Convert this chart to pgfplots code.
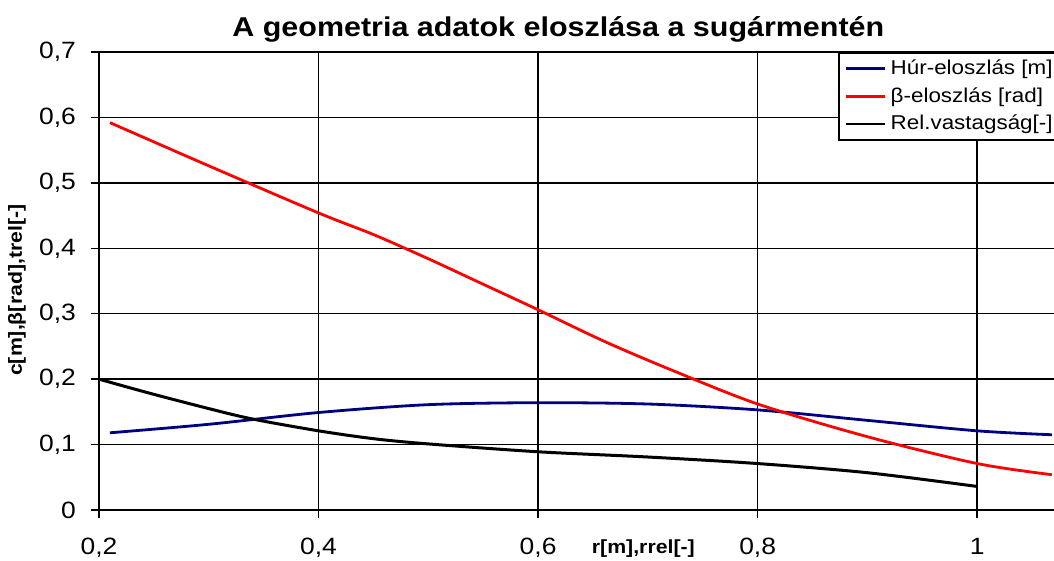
\documentclass[border=0pt]{standalone}
\usepackage{fontspec}
\setmainfont{Liberation Sans}[FakeStretch=1.12]
\usepackage{pgfplots}
\pgfplotsset{compat=1.18}
\usetikzlibrary{calc}
\definecolor{hurblue}{RGB}{0,0,128}

\begin{document}
\begin{tikzpicture}
\begin{axis}[
    scale only axis,
    width=477.5pt, height=229pt,
    xmin=0.2, xmax=1.07, ymin=0, ymax=0.7,
    xtick={0.2,0.4,0.6,0.8,1.0},
    ytick={0,0.1,0.2,0.3,0.4,0.5,0.6,0.7},
    axis x line*=bottom, axis y line*=left,
    axis line style={-, line width=0.75pt},
    tick style={black, line width=0.75pt},
    tick align=center, major tick length=8pt,
    grid=major,
    major grid style={black, line width=0.75pt},
    /pgf/number format/use comma,
    /pgf/number format/assume math mode=true,
    tick label style={font=\fontsize{11.8}{13}\selectfont},
    xticklabel style={anchor=base, yshift=-18pt},
    yticklabel style={anchor=east, xshift=-4pt},
    title={\bfseries A geometria adatok eloszlása a sugármentén},
    title style={at={(axis description cs:0.481,1)}, anchor=base, yshift=1.8pt,
        font=\fontsize{13.6}{16}\selectfont},
    xlabel={\bfseries r[m],rrel[-]},
    xlabel style={at={(axis description cs:0.57,0)}, anchor=base, yshift=-21.5pt,
        font=\fontsize{9.5}{11}\selectfont},
    ylabel={\bfseries c[m],β[rad],trel[-]},
    ylabel style={at={(axis description cs:-0.0859,0.48)}, anchor=center,
        font=\fontsize{9.5}{11}\selectfont},
    legend style={at={(axis description cs:0.774,1)}, anchor=north west,
        draw=black, line width=0.75pt, fill=white,
        font=\fontsize{10}{12}\selectfont,
        row sep=1pt, inner xsep=3pt, inner ysep=1.5pt},
    legend cell align=left,
    legend image code/.code={\draw[#1, line width=1.4pt] (0pt,0pt) -- (19.5pt,0pt);},
]
\coordinate (ll) at (rel axis cs:0,0);
\coordinate (ur) at (rel axis cs:1,1);

\addplot[hurblue, line width=1.4pt, smooth] coordinates {
    (0.21,0.118) (0.3,0.131) (0.4,0.149) (0.5,0.161) (0.6,0.164)
    (0.7,0.162) (0.8,0.153) (0.9,0.137) (1.0,0.121) (1.068,0.115)
};
\addlegendentry{Húr-eloszlás [m]}

\addplot[red, line width=1.4pt, smooth] coordinates {
    (0.21,0.592) (0.3,0.526) (0.4,0.454) (0.45,0.421) (0.5,0.384)
    (0.55,0.345) (0.6,0.306) (0.66,0.258) (0.72,0.215) (0.8,0.162)
    (0.9,0.112) (1.0,0.071) (1.068,0.054)
};
\addlegendentry{β-eloszlás [rad]}

\addplot[black, line width=1.5pt, smooth] coordinates {
    (0.2,0.2) (0.245,0.179) (0.3,0.155) (0.34,0.139) (0.4,0.121)
    (0.45,0.109) (0.5,0.101) (0.6,0.089) (0.7,0.081) (0.8,0.071)
    (0.9,0.057) (1.0,0.036)
};
\addlegendentry{Rel.vastagság[-]}
\end{axis}
\pgfresetboundingbox
\useasboundingbox ($(ll)+(-49.5pt,-25pt)$) rectangle ($(ur)+(0pt,26pt)$);
\end{tikzpicture}
\end{document}
